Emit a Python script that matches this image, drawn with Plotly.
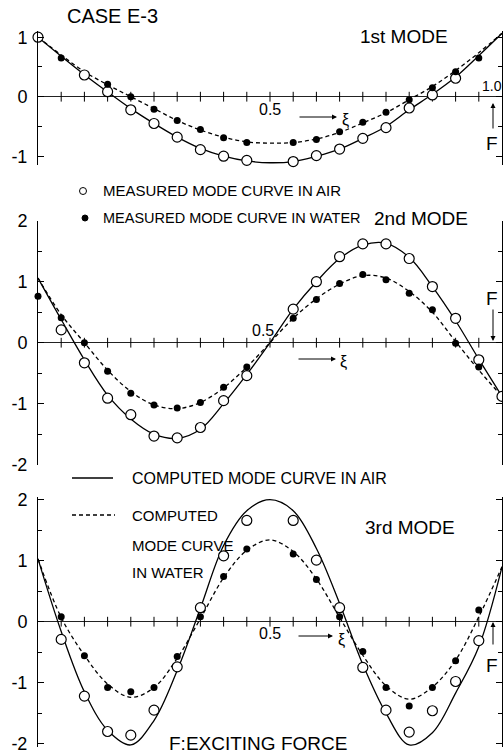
import plotly.graph_objects as go

# ---------------- data ----------------
XI = [0.0, 0.05, 0.1, 0.15, 0.2, 0.25, 0.3, 0.35, 0.4, 0.45, 0.5,
      0.55, 0.6, 0.65, 0.7, 0.75, 0.8, 0.85, 0.9, 0.95, 1.0]
X_TICKS = [0.05, 0.1, 0.15, 0.2, 0.25, 0.3, 0.35, 0.4, 0.45, 0.5,
           0.55, 0.6, 0.65, 0.7, 0.75, 0.8, 0.85, 0.9, 0.95]

# 1st mode
c1_air = [1.0, 0.68, 0.37, 0.08, -0.2, -0.45, -0.68, -0.87, -1.0, -1.08, -1.11,
          -1.09, -1.0, -0.88, -0.70, -0.5, -0.22, 0.04, 0.33, 0.69, 1.065]
c1_wat = [1.0, 0.7, 0.42, 0.2, 0.0, -0.2, -0.4, -0.56, -0.68, -0.76, -0.78,
          -0.77, -0.71, -0.6, -0.44, -0.27, -0.05, 0.17, 0.44, 0.74, 1.065]
m1_air_x = [0.0, 0.1, 0.15, 0.2, 0.25, 0.3, 0.35, 0.4, 0.45, 0.55, 0.6, 0.65,
            0.7, 0.75, 0.8, 0.85, 0.9]
m1_air_y = [1.0, 0.365, 0.084, -0.22, -0.45, -0.68, -0.89, -1.0, -1.07, -1.09,
            -0.99, -0.88, -0.70, -0.52, -0.19, 0.03, 0.31]
m1_wat_x = [0.05, 0.15, 0.2, 0.25, 0.3, 0.35, 0.4, 0.45, 0.55, 0.6, 0.65, 0.7,
            0.75, 0.8, 0.85, 0.9, 0.95]
m1_wat_y = [0.65, 0.21, 0.0, -0.21, -0.40, -0.55, -0.69, -0.77, -0.77, -0.72,
            -0.59, -0.43, -0.26, -0.05, 0.15, 0.42, 0.65]

# 2nd mode
c2_air = [1.06, 0.38, -0.28, -0.86, -1.25, -1.5, -1.57, -1.42, -1.0, -0.52, 0.0,
          0.55, 1.0, 1.38, 1.6, 1.63, 1.4, 0.92, 0.36, -0.27, -0.88]
c2_wat = [1.06, 0.46, 0.0, -0.45, -0.8, -1.02, -1.08, -0.98, -0.74, -0.4, 0.0,
          0.4, 0.72, 0.96, 1.1, 1.06, 0.84, 0.5, 0.02, -0.45, -0.88]
m2_air_x = [0.05, 0.1, 0.15, 0.2, 0.25, 0.3, 0.35, 0.4, 0.45, 0.55, 0.6, 0.65,
            0.7, 0.75, 0.8, 0.85, 0.9, 0.95, 1.0]
m2_air_y = [0.21, -0.33, -0.91, -1.18, -1.53, -1.56, -1.39, -0.95, -0.54, 0.55,
            1.0, 1.41, 1.62, 1.62, 1.38, 0.92, 0.40, -0.28, -0.88]
m2_wat_x = [0.0, 0.05, 0.1, 0.15, 0.2, 0.25, 0.3, 0.35, 0.4, 0.45, 0.55, 0.6,
            0.65, 0.7, 0.75, 0.8, 0.85, 0.9, 0.95]
m2_wat_y = [0.76, 0.41, 0.0, -0.47, -0.83, -1.02, -1.07, -0.98, -0.73, -0.40,
            0.40, 0.71, 0.97, 1.12, 1.03, 0.81, 0.54, -0.01, -0.40]

# 3rd mode
c3_air = [1.03, -0.16, -1.15, -1.78, -2.02, -1.62, -0.8, 0.22, 1.25, 1.82, 2.0,
          1.82, 1.2, 0.3, -0.7, -1.5, -2.02, -1.82, -1.17, -0.41, 0.9]
c3_wat = [1.03, 0.07, -0.55, -1.02, -1.24, -1.08, -0.6, 0.05, 0.72, 1.17, 1.34,
          1.15, 0.7, 0.07, -0.55, -1.05, -1.27, -1.07, -0.63, 0.08, 0.9]
m3_x = [0.05, 0.1, 0.15, 0.2, 0.25, 0.3, 0.35, 0.4, 0.45, 0.55, 0.6, 0.65, 0.7,
        0.75, 0.8, 0.85, 0.9, 0.95]
m3_air_y = [-0.29, -1.22, -1.80, -1.86, -1.45, -0.74, 0.23, 1.08, 1.66, 1.66,
            1.01, 0.23, -0.75, -1.45, -1.81, -1.46, -0.98, -0.31]
m3_wat_y = [0.08, -0.56, -1.08, -1.15, -1.08, -0.57, 0.08, 0.74, 1.19, 1.11,
            0.69, 0.08, -0.49, -1.08, -1.38, -1.08, -0.64, 0.19]

Y_TICKS_1 = [-1, 0, 1]
Y_TEXT_1 = ["-1", "0", "1"]
Y_TICKS_23 = [-2, -1, 0, 1, 2]
Y_TEXT_23 = ["-2", "-1", "0", "1", "2"]

# ---------------- layout geometry ----------------
W, H = 503, 756
ML, MR = 38, 1
PW = W - ML - MR
FONT = "Liberation Sans, Arial, sans-serif"


def px(x):
    return (x - ML) / PW


def py(y):
    return 1 - y / H


def dom(y0px, scale, lo, hi):
    top = y0px - hi * scale
    bot = y0px - lo * scale
    return [py(bot), py(top)]


panels = [
    dict(rng=[-1.14, 1.1], dom=dom(96.7, 59.5, -1.14, 1.1), tv=Y_TICKS_1, tt=Y_TEXT_1,
         air=c1_air, wat=c1_wat, max=m1_air_x, may=m1_air_y, mwx=m1_wat_x, mwy=m1_wat_y),
    dict(rng=[-2.0, 2.0], dom=dom(342.7, 61.0, -2.0, 2.0), tv=Y_TICKS_23, tt=Y_TEXT_23,
         air=c2_air, wat=c2_wat, max=m2_air_x, may=m2_air_y, mwx=m2_wat_x, mwy=m2_wat_y),
    dict(rng=[-2.05, 2.05], dom=dom(621.7, 61.0, -2.05, 2.05), tv=Y_TICKS_23, tt=Y_TEXT_23,
         air=c3_air, wat=c3_wat, max=m3_x, may=m3_air_y, mwx=m3_x, mwy=m3_wat_y),
]

fig = go.Figure()
layout = dict(width=W, height=H, margin=dict(l=ML, r=MR, t=0, b=0, autoexpand=False),
              paper_bgcolor="white", plot_bgcolor="white", showlegend=False,
              font=dict(family=FONT, color="black"))

for i, p in enumerate(panels, start=1):
    xa = "x" if i == 1 else f"x{i}"
    ya = "y" if i == 1 else f"y{i}"
    fig.add_trace(go.Scatter(x=X_TICKS, y=[0] * len(X_TICKS), mode="markers",
                             marker=dict(symbol="line-ns-open", size=7, color="black",
                                         line=dict(width=1, color="black")),
                             cliponaxis=False, xaxis=xa, yaxis=ya, hoverinfo="skip"))
    fig.add_trace(go.Scatter(x=XI, y=p["air"], mode="lines",
                             line=dict(color="black", width=1.3, shape="spline"),
                             xaxis=xa, yaxis=ya))
    fig.add_trace(go.Scatter(x=XI, y=p["wat"], mode="lines",
                             line=dict(color="black", width=1.3, shape="spline", dash="4px,3px"),
                             xaxis=xa, yaxis=ya))
    fig.add_trace(go.Scatter(x=p["max"], y=p["may"], mode="markers",
                             marker=dict(symbol="circle", size=10, color="white",
                                         line=dict(width=1.2, color="black")),
                             cliponaxis=False, xaxis=xa, yaxis=ya))
    fig.add_trace(go.Scatter(x=p["mwx"], y=p["mwy"], mode="markers",
                             marker=dict(symbol="circle", size=7, color="black"),
                             cliponaxis=False, xaxis=xa, yaxis=ya))
    xkey = "xaxis" if i == 1 else f"xaxis{i}"
    ykey = "yaxis" if i == 1 else f"yaxis{i}"
    layout[xkey] = dict(domain=[0, 1], range=[0, 1], anchor=ya, showline=False,
                        showgrid=False, zeroline=False, showticklabels=False, ticks="",
                        automargin=False)
    layout[ykey] = dict(domain=p["dom"], range=p["rng"], anchor=xa,
                        showline=True, linecolor="black", linewidth=1, mirror="ticks",
                        ticks="inside", ticklen=6, tickcolor="black",
                        tickvals=p["tv"], ticktext=p["tt"],
                        minor=dict(dtick=0.5, tick0=0, ticks="inside", ticklen=4,
                                   tickcolor="black", showgrid=False),
                        showgrid=False, zeroline=True, zerolinecolor="#222",
                        zerolinewidth=1, ticklabelstandoff=6, automargin=False,
                        tickfont=dict(size=18, family=FONT, color="black"))

fig.update_layout(**layout)

ann = []


def text(t, x, y, size, xanchor="center"):
    ann.append(dict(text=t, x=px(x), y=py(y), xref="paper", yref="paper",
                    xanchor=xanchor, yanchor="middle", showarrow=False,
                    font=dict(size=size, family=FONT, color="black")))


def arrow(hx, hy, tx, ty):
    ann.append(dict(text="", x=px(hx), y=py(hy), xref="paper", yref="paper",
                    ax=tx - hx, ay=ty - hy, showarrow=True, arrowhead=2,
                    arrowsize=1, arrowwidth=1, arrowcolor="black"))


text("CASE E-3", 112, 16, 20)
text("1st MODE", 404, 36, 19)
text("0.5", 270, 110, 16)
arrow(337, 117, 298, 117)
text("ξ", 345, 120, 16)
text("1.0", 492, 86, 14)
arrow(493, 103, 493, 130)
text("F", 492, 143, 19)

text("MEASURED MODE CURVE IN AIR", 101, 190, 15, "left")
text("MEASURED MODE CURVE IN WATER", 101, 218, 14.5, "left")
text("2nd MODE", 372, 218, 19, "left")

text("0.5", 263, 330, 16)
arrow(336, 359, 297, 359)
text("ξ", 343, 362, 16)
text("F", 492, 298, 19)
arrow(493, 341, 493, 308)

text("COMPUTED MODE CURVE IN AIR", 130, 478, 16, "left")
text("COMPUTED", 130, 515, 15, "left")
text("MODE CURVE", 130, 545, 15, "left")
text("IN WATER", 130, 572, 15, "left")
text("3rd MODE", 410, 527, 19)

text("0.5", 270, 633, 16)
arrow(333, 636, 297, 636)
text("ξ", 341, 640, 16)
arrow(493, 622, 493, 646)
text("F", 492, 665, 19)
text("F:EXCITING FORCE", 258, 743, 19)

shapes = [
    dict(type="circle", xref="paper", yref="paper", x0=px(79.5), x1=px(86.5),
         y0=py(194.5), y1=py(187.5), line=dict(color="black", width=1), fillcolor="white"),
    dict(type="circle", xref="paper", yref="paper", x0=px(82), x1=px(88),
         y0=py(221), y1=py(215), line=dict(color="black", width=1), fillcolor="black"),
    dict(type="line", xref="paper", yref="paper", x0=px(72), x1=px(113),
         y0=py(478), y1=py(478), line=dict(color="black", width=1.3)),
    dict(type="line", xref="paper", yref="paper", x0=px(72), x1=px(115),
         y0=py(515), y1=py(515), line=dict(color="black", width=1.3, dash="4px,3px")),
]
fig.update_layout(annotations=ann, shapes=shapes)

POST = ("document.body.style.margin='0';document.body.style.overflow='hidden';"
        "var d=document.getElementById('{plot_id}');"
        "d.style.position='absolute';d.style.left='0px';d.style.top='0px';")
fig.write_html("out.html", post_script=POST, config={"displayModeBar": False})
